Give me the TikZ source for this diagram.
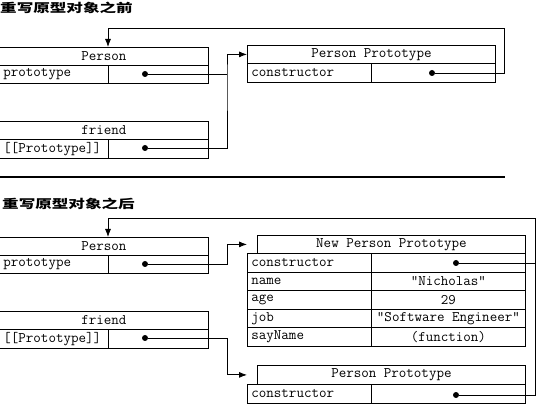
\documentclass[tikz,border=0pt]{standalone}
\usepackage{fontspec}
\newfontfamily\cjk{Noto Sans CJK SC}
\usetikzlibrary{arrows.meta}
\newcommand\wide[1]{\scalebox{1.38}[1]{#1}}
\tikzset{
  cell/.style={draw, line width=0.8pt, anchor=north west, inner xsep=4pt, inner ysep=0pt,
    font=\ttfamily\fontsize{14.6pt}{16pt}\selectfont},
  key/.style={cell, text width=#1, align=left},
  dot/.style={circle, fill, inner sep=0pt, minimum size=6pt},
  link/.style={line width=0.8pt},
  ptr/.style={line width=0.8pt, -{Latex[length=8pt,width=6pt]}},
  heading/.style={anchor=west, inner sep=0pt, font=\cjk\bfseries\fontsize{12pt}{14pt}\selectfont}
}

\begin{document}
\begin{tikzpicture}[x=1pt, y=-1pt]
                \useasboundingbox (0,0) rectangle (554,411);

                % before
                \node[heading] (t1) at (0,8) {\wide{重写原型对象之前}};
                \node[cell, minimum width=209pt, minimum height=18pt] (p1) at (-1,47) {Person};
                \node[key=101pt, minimum height=18pt] (p2) at (-1,65) {prototype};
                \node[cell, minimum width=100pt, minimum height=18pt] (p3) at (108,65) {};
                \node[cell, minimum width=209pt, minimum height=18pt] (f1) at (-1,121) {friend};
                \node[key=101pt, minimum height=19pt] (f2) at (-1,139) {[[Prototype]]};
                \node[cell, minimum width=100pt, minimum height=19pt] (f3) at (108,139) {};
                \node[cell, minimum width=248pt, minimum height=18pt] (pp1) at (247,45) {Person Prototype};
                \node[key=116pt, minimum height=19pt] (pp2) at (247,63) {constructor};
                \node[cell, minimum width=124pt, minimum height=19pt] (pp3) at (371,63) {};

                \node[dot] (pd) at (145,74) {};
                \node[dot] (fd) at (145,148) {};
                \node[dot] (ppd) at (432,73) {};
                \coordinate (j1) at (227,74);
                \coordinate (r1) at (504,28);

                \draw[link] (pd) -- (j1);
                \draw[ptr] (fd) -| (j1) |- (pp1.west);
                \draw[ptr] (ppd) -| (r1) -| (p3.west |- p1.north);

                \draw[line width=1.5pt] (0,177) -- (505,177);

                % after
                \node[heading] (t2) at (2,203.5) {\wide{重写原型对象之后}};
                \node[cell, minimum width=209pt, minimum height=18pt] (q1) at (-1,237) {Person};
                \node[key=101pt, minimum height=18pt] (q2) at (-1,255) {prototype};
                \node[cell, minimum width=100pt, minimum height=18pt] (q3) at (108,255) {};
                \node[cell, minimum width=209pt, minimum height=18pt] (g1) at (-1,311) {friend};
                \node[key=101pt, minimum height=19pt] (g2) at (-1,329) {[[Prototype]]};
                \node[cell, minimum width=100pt, minimum height=19pt] (g3) at (108,329) {};

                \node[cell, minimum width=268pt, minimum height=18pt] (n0) at (257,235) {New Person Prototype};
                \node[key=116pt, minimum height=18.6pt] (n1) at (247,253) {constructor};
                \node[cell, minimum width=154pt, minimum height=18.6pt] (n2) at (371,253) {};
                \node[key=116pt, minimum height=18.6pt] (n3) at (247,271.6) {name};
                \node[cell, minimum width=154pt, minimum height=18.6pt] (n4) at (371,271.6) {"Nicholas"};
                \node[key=116pt, minimum height=18.6pt] (n5) at (247,290.2) {age};
                \node[cell, minimum width=154pt, minimum height=18.6pt] (n6) at (371,290.2) {29};
                \node[key=116pt, minimum height=18.6pt] (n7) at (247,308.8) {job};
                \node[cell, minimum width=154pt, minimum height=18.6pt] (n8) at (371,308.8) {"Software Engineer"};
                \node[key=116pt, minimum height=18.6pt] (n9) at (247,327.4) {sayName};
                \node[cell, minimum width=154pt, minimum height=18.6pt] (n10) at (371,327.4) {(function)};

                \node[cell, minimum width=268pt, minimum height=19pt] (o0) at (257,365) {Person Prototype};
                \node[key=116pt, minimum height=19pt] (o1) at (247,384) {constructor};
                \node[cell, minimum width=154pt, minimum height=19pt] (o2) at (371,384) {};

                \node[dot] (qd) at (145,264) {};
                \node[dot] (gd) at (145,338) {};
                \node[dot] (nd) at (456,263) {};
                \node[dot] (od) at (456,395) {};
                \coordinate (j2) at (227,264);
                \coordinate (j3) at (227,338);
                \coordinate (r2) at (535,218);

                \draw[ptr] (qd) -- (j2) |- (n0.west -| n1.west);
                \draw[ptr] (gd) -- (j3) |- (o0.west -| o1.west);
                \draw[ptr] (nd) -| (r2) -| (q3.west |- q1.north);
                \draw[link] (od) -| (r2);
            \end{tikzpicture}
\end{document}
